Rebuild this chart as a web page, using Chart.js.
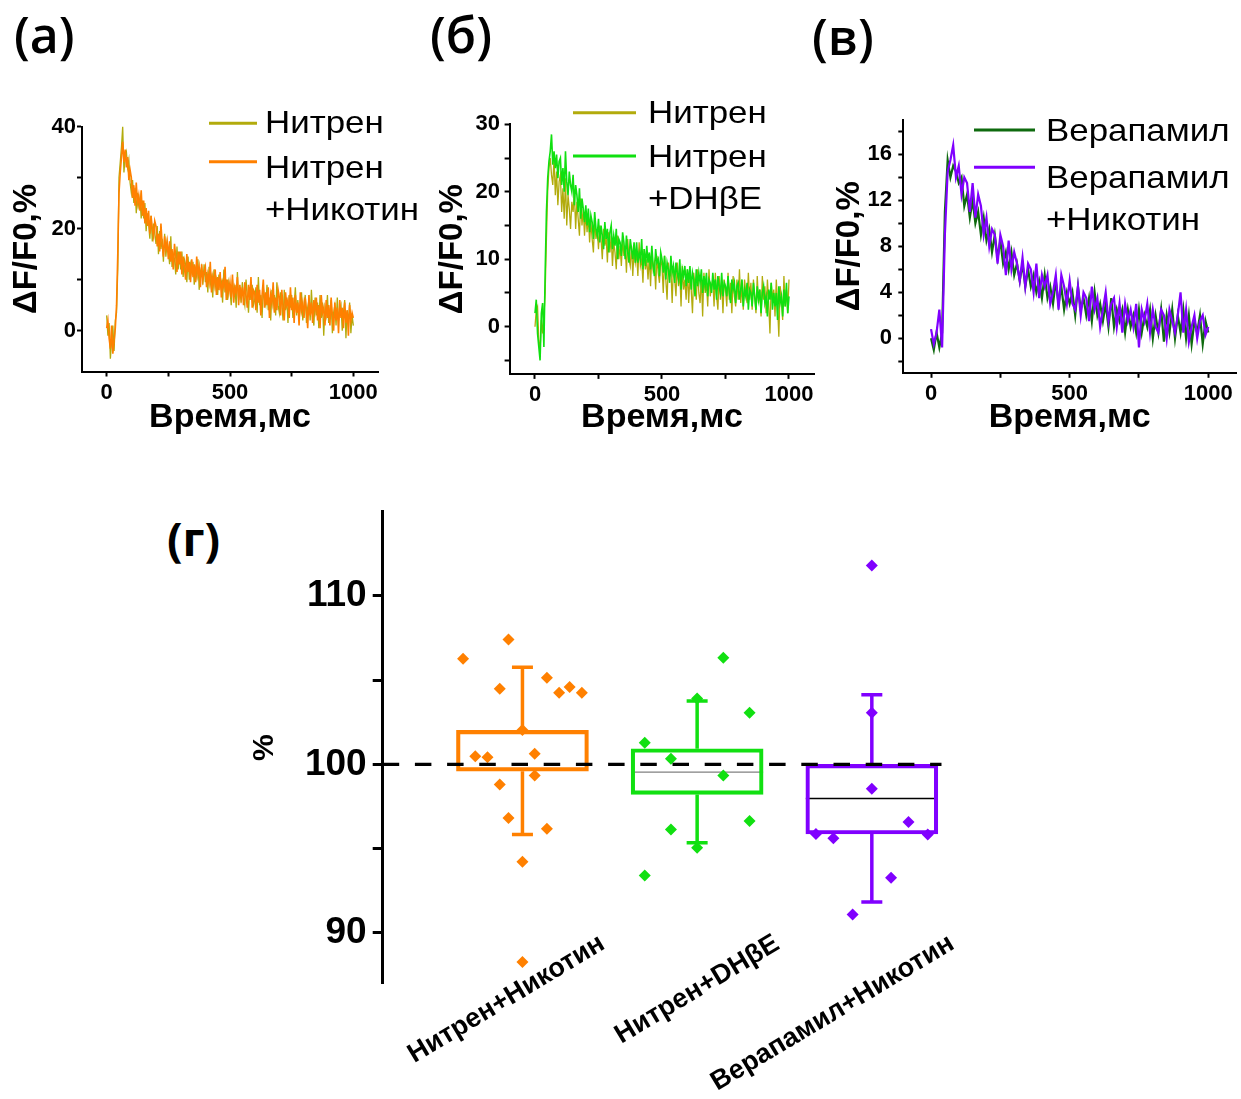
<!DOCTYPE html>
<html lang="ru">
<head>
<meta charset="utf-8">
<title>Кальциевые ответы</title>
<script src="https://cdn.jsdelivr.net/npm/chart.js@4.4.1/dist/chart.umd.min.js"></script>
<style>
  html, body { margin: 0; background: #fff; }
  body { position: relative; width: 1241px; height: 1099px; overflow: hidden; }
  canvas { position: absolute; }
  .tag { position: absolute; font-family: "Open Sans", sans-serif; font-weight: 600; font-size: 50px; line-height: 1; color: #000; white-space: nowrap; }
</style>
</head>
<body>
<div class="tag" style="left:14px;top:9px">(a)</div>
<div class="tag" style="left:430px;top:9px">(б)</div>
<div class="tag" style="left:812px;top:11px">(в)</div>
<div class="tag" style="left:167px;top:515px;font-weight:700;font-size:46px">(г)</div>
<canvas id="trace-a" width="420" height="350" style="left:0;top:90px"></canvas>
<canvas id="trace-b" width="410" height="360" style="left:420px;top:80px"></canvas>
<canvas id="trace-c" width="411" height="360" style="left:830px;top:80px"></canvas>
<canvas id="summary" width="840" height="629" style="left:150px;top:470px"></canvas>
<script>
const FONT = '"Liberation Sans", Arial, sans-serif';
Chart.defaults.font.family = FONT;
Chart.defaults.color = '#000';

// sampling grids of the fluorescence traces, ms
const fineTimes = Array.from({ length: 201 }, (_, i) => i * 5);
const coarseTimes = Array.from({ length: 101 }, (_, i) => i * 10);
const timeTicks = [0, 250, 500, 750, 1000];
const timeLabels = [0, 500, 1000];

// (a) Нитрен vs Нитрен+Никотин, ΔF/F0 %
const nitrenA = [
    3, -1, 1.5, -5.5, -2, 1, -4, 2, 3.5, 12,
    30, 33, 36, 40, 31, 34, 35, 32, 33.5, 29,
    27, 29.5, 25, 28, 23, 27, 24.5, 26, 22, 25.5,
    22, 25, 19.5, 23, 21, 18, 22.5, 17.5, 21, 19,
    17, 20.5, 15, 19.5, 16, 18, 13.5, 19, 14.5, 17.5,
    16, 13, 18.5, 12.5, 15, 14, 11, 16.5, 12, 15.5,
    12, 15.5, 10.5, 14, 13, 9.5, 14.5, 10, 13, 11.5,
    13.5, 9, 12, 10.5, 14, 8, 11.5, 12.5, 9, 13,
    9.5, 11.5, 7.5, 12.5, 9, 10.5, 6.5, 12, 8.5, 10,
    7, 11, 8.5, 9.5, 5.5, 12, 7.5, 10, 6, 9.5,
    8, 5, 10, 7, 9, 4.5, 11.5, 6, 8.5, 5.5,
    9.5, 6.5, 5, 10, 7, 3.5, 8.5, 6, 9, 5,
    6, 8.5, 3.5, 10.5, 5, 7, 2.5, 8.5, 6, 5,
    9, 4, 6.5, 2, 8, 5, 7, 3, 9.5, 5,
    3.5, 7.5, 5.5, 2, 8, 4, 6.5, 1.5, 7, 4.5,
    7, 2.5, 5, 8.5, 3, 6, 2, 4.5, 7.5, 2,
    5, 7, 1.5, 4.5, 6, 2, 8, 3.5, 1, 6.5,
    3, 5.5, 0.5, 7, 2.5, 5.5, -1, 4.5, 3, 7,
    1.5, 4, 6, -0.5, 3.5, 5, 1, 6.5, 2, 4,
    5, 0, 3.5, 6, -1.5, 4, 1.5, 5.5, -0.5, 3,
    1
];
const nitrenNicotineA = [
    0.5, 2, -1.5, -3.5, 1, -4.5, -2, 0.5, 5, 15,
    27, 31, 34, 37, 33, 35.5, 32, 34, 29.5, 31.5,
    30, 26, 28.5, 24.5, 29, 25, 26.5, 23.5, 27.5, 22.5,
    25.5, 21, 24, 20.5, 23.5, 19, 22.5, 20, 18.5, 21.5,
    20.5, 16.5, 19, 15.5, 21, 17, 14.5, 18.5, 16, 17.5,
    14, 17.5, 13.5, 16, 12, 17, 14.5, 11.5, 15.5, 13,
    15.5, 11, 14.5, 12.5, 10, 15, 11.5, 13.5, 9.5, 14,
    10.5, 13, 9.5, 14.5, 11, 12.5, 8.5, 13, 10, 11.5,
    12.5, 8.5, 11, 9.5, 13.5, 7.5, 10.5, 9, 12, 7,
    10.5, 8, 11.5, 6.5, 9.5, 8.5, 12.5, 6, 10, 7.5,
    9.5, 6.5, 11, 5.5, 8.5, 7.5, 10.5, 5, 9, 6.5,
    8.5, 5, 9.5, 7, 4.5, 9, 6, 10.5, 4.5, 8,
    7.5, 4, 9, 5.5, 8, 3, 7, 10, 4.5, 7.5,
    5, 8.5, 2.5, 7, 5.5, 9.5, 3.5, 6.5, 4, 8,
    6.5, 3, 8, 4.5, 2, 7.5, 5, 6, 2.5, 8.5,
    4, 6.5, 1.5, 7, 3.5, 5.5, 1, 7.5, 4, 5.5,
    2.5, 6.5, 4, 0.5, 7, 3, 5.5, 1.5, 6, 4,
    6.5, 2, 5, 0.5, 7, 3.5, 4.5, 1, 6, 2.5,
    5, 1, 6.5, 3, 0, 5.5, 2, 4.5, -0.5, 6,
    2.5, 4.5, 0.5, 5.5, 1.5, 4, -1, 5, 2, 3.5,
    2.5
];

// (б) Нитрен vs Нитрен+DHβE
const nitrenB = [
    0, 2.5, 3, -2, -3.5, 1, -1, 1.5, 5, 13,
    20, 23.5, 25, 22.5, 21, 25, 19.5, 23, 18, 21.5,
    22.5, 17, 20.5, 16, 22, 15, 19.5, 17.5, 14.5, 18.5,
    17, 20, 14.5, 18.5, 16, 13.5, 19, 15, 17.5, 13.5,
    17, 14, 16.5, 12.5, 15.5, 13, 11, 16, 13, 14.5,
    11.5, 15, 13, 10, 14.5, 12, 13.5, 9.5, 14, 11,
    13.5, 9, 12.5, 11, 8.5, 13.5, 10, 12, 9, 13,
    10.5, 12, 8, 13, 10, 9, 12, 7.5, 11.5, 9.5,
    11, 7.5, 12.5, 9, 10, 6.5, 11.5, 8.5, 10, 7,
    10.5, 6, 11, 8.5, 9.5, 5.5, 10.5, 8, 6.5, 10,
    9, 5, 10.5, 7, 4, 9.5, 7.5, 8.5, 3.5, 9,
    7, 4.5, 9.5, 6, 8, 3, 9, 5.5, 7, 4,
    8.5, 3.5, 7.5, 5.5, 2, 8, 6, 4, 8.5, 5,
    3.5, 7.5, 1.5, 8, 5, 6.5, 3, 8.5, 4.5, 6,
    7, 3, 8, 4.5, 2.5, 7.5, 4, 6.5, 2, 7,
    5.5, 3, 8, 4, 6.5, 2, 7.5, 4.5, 3, 7,
    4, 8.5, 3.5, 6, 2.5, 7, 5, 3.5, 8, 4,
    6.5, 2.5, 7, 4.5, 2, 7.5, 3.5, 5.5, 1.5, 7.5,
    4, 6, 2, 7, 3.5, -1, 6.5, 4, 5.5, 1.5,
    7, 3, -1.5, 6, 4.5, 1, 7.5, 3, 5.5, 2,
    7
];
const nitrenDhbeB = [
    2, 4, -1, -3, -5, 2, 3.5, -3, 8, 17,
    22, 24.5, 26, 28.5, 24, 26, 23.5, 25.5, 22, 24.5,
    25, 21, 23.5, 20, 26, 21.5, 19.5, 23, 21, 20,
    22.5, 18, 21, 19.5, 17, 20.5, 16, 19, 17.5, 15.5,
    18, 15, 17.5, 14, 16.5, 15.5, 13, 17, 14.5, 13.5,
    16, 12.5, 15, 13.5, 11.5, 15.5, 13, 14.5, 11, 14,
    15, 11.5, 13.5, 12, 14.5, 10, 13, 12.5, 10.5, 14,
    12.5, 10, 13.5, 11, 9.5, 13, 11.5, 10, 12.5, 9.5,
    12.5, 9.5, 11, 10, 13, 8.5, 11.5, 9, 12, 9.5,
    11, 8.5, 12, 9, 7.5, 11.5, 9.5, 10, 7.5, 11,
    10, 8, 10.5, 7, 9.5, 8.5, 6.5, 10.5, 8, 9,
    6.5, 9.5, 8, 7, 10, 5.5, 8.5, 7.5, 9, 6,
    8.5, 6.5, 9, 5.5, 8, 7, 4.5, 8.5, 6, 8,
    6.5, 8.5, 5, 7.5, 6, 8, 4.5, 7, 6.5, 5,
    8, 5.5, 7, 4, 7.5, 6, 5, 8, 4.5, 6.5,
    6, 4.5, 7.5, 5, 3.5, 7, 5.5, 6.5, 3.5, 6,
    6.5, 4, 5.5, 7, 3, 5.5, 4.5, 6.5, 2.5, 5.5,
    5, 3, 6.5, 4.5, 2.5, 6, 4, 5.5, 2, 5,
    6, 3.5, 4.5, 1.5, 5.5, 4, 6.5, 2.5, 5, 3,
    5, 1, 6, 3.5, 4.5, 1.5, 5.5, 3, 6.5, 2,
    4.5
];

// (в) Верапамил vs Верапамил+Никотин
const verapamilC = [
    0, -1, 0.5, -0.8, 0.5, 11, 15.5, 14, 15, 14.5,
    13.5, 14, 11.5, 12.5, 10.5, 12, 10, 11, 9, 10.5,
    8.5, 9.5, 7.5, 9, 7, 8.5, 6.5, 7.5, 6, 7.5,
    5.5, 6.5, 5, 6.5, 4.5, 6, 4.5, 5.5, 4, 5,
    3.5, 5.5, 3.5, 4.5, 3, 5, 3, 4.5, 2.5, 4,
    3, 4, 2, 4.5, 2.5, 3.5, 2, 3.5, 1.5, 4,
    2, 3, 1.5, 3, 1, 3.5, 1, 2.5, 1.5, 2.5,
    0.5, 2.5, 1, 2, 0.5, 2.5, 0.5, 2, 1, 2.5,
    0, 2, 0.5, 2.5, -0.3, 2, 0.5, 2.5, 0, 2,
    0.5, 2.5, 0, 2, -0.5, 1.5, 0.5, 2, -0.5, 1.5,
    0.5
];
const verapamilNicotineC = [
    0.8, -0.5, 0.5, 2.5, -0.8, 9, 14.5, 15.5, 16.8, 14,
    15, 12.5, 14, 13.5, 11, 13.5, 10.5, 12.5, 11.5, 9,
    10.5, 8, 9.5, 9, 6.5, 9, 8, 5.5, 8.5, 6,
    7.5, 6.5, 5, 7, 4.5, 6.5, 6, 4, 6.5, 3.5,
    5.5, 4.5, 5.5, 3, 4, 5.5, 2.5, 5.5, 4.5, 3,
    5, 3, 2.5, 4.5, 2, 4, 3.5, 1.5, 4.5, 2.5,
    3.5, 1, 2.5, 4, 1.5, 3, 3.5, 1, 3, 0.5,
    3, 1.5, 2.5, 1, 3, -0.8, 2.5, 1.5, 3, 0.5,
    2.5, 1, 0.5, 2.5, 2, 0, 2.5, 1.5, 0.5, 2,
    4, 0.5, 2.5, -0.3, 1, 2, 0, 1.5, 2, 0.3,
    1
];

// (г) amplitude relative to control, %
const groupNames = ['Нитрен+Никотин', 'Нитрен+DHβE', 'Верапамил+Никотин'];
const groupColors = ['#ff8000', '#11e011', '#8000ff'];
const meanColors = [null, '#808080', '#000000'];
const boxLow = [99.6, 98.22, 95.87];
const boxHigh = [102.02, 100.93, 100.0];
const whiskerLow = [95.85, 95.35, 91.83];
const whiskerHigh = [105.77, 103.76, 104.14];
const meanLine = [null, 99.54, 97.98];

const cellsNicotine = [106.27, 107.41, 104.49, 105.15, 104.26, 104.59, 104.26, 102.04, 100.49,
    100.43, 100.63, 99.35, 98.81, 96.82, 96.18, 94.22, 88.27];
const spreadNicotine = [-0.34, -0.08, -0.13, 0.14, 0.21, 0.27, 0.34, 0, -0.27,
    -0.2, 0.07, 0.07, -0.13, -0.08, 0.14, 0, 0];
const cellsDhbe = [106.33, 103.92, 103.07, 101.29, 100.34, 99.35, 96.64, 96.14, 95.05, 93.41];
const spreadDhbe = [0.15, 0, 0.3, -0.3, -0.15, 0.15, 0.3, -0.15, 0, -0.3];
const cellsVerapamil = [111.81, 103.07, 98.56, 96.58, 95.87, 95.62, 95.85, 93.28, 91.1];
const spreadVerapamil = [0, 0, 0, 0.21, -0.32, -0.22, 0.32, 0.11, -0.11];

const percentTicks = [90, 95, 100, 105, 110];
const percentLabels = [90, 100, 110];

// legend with line samples and multi-line labels
const traceLegend = {
    id: 'traceLegend',
    afterDraw(chart, args, opts) {
        const ctx = chart.ctx;
        ctx.save();
        ctx.font = '32px ' + FONT;
        ctx.fillStyle = '#000';
        ctx.textAlign = 'left';
        ctx.textBaseline = 'alphabetic';
        chart.data.datasets.forEach((ds, i) => {
            const row = opts.rows[i];
            ctx.strokeStyle = ds.borderColor;
            ctx.lineWidth = 3;
            ctx.beginPath();
            ctx.moveTo(opts.lineFrom, row.lineY);
            ctx.lineTo(opts.lineTo, row.lineY);
            ctx.stroke();
            ds.label.split('\n').forEach((text, k) => {
                ctx.save();
                ctx.translate(opts.textX, row.baselines[k]);
                ctx.scale(1.09, 1);
                ctx.fillText(text, 0, 0);
                ctx.restore();
            });
        });
        ctx.restore();
    }
};

function traceDataset(label, times, values, color, width, order) {
    return {
        label: label,
        order: order,
        data: values.map((v, i) => ({ x: times[i], y: v })),
        borderColor: color,
        borderWidth: width,
        pointRadius: 0,
        tension: 0,
        fill: false
    };
}

function buildTraceChart(id, spec) {
    const ctx = document.getElementById(id).getContext('2d');
    return new Chart(ctx, {
        type: 'line',
        data: { datasets: spec.datasets },
        options: {
            responsive: false,
            animation: false,
            events: [],
            layout: { padding: spec.padding },
            plugins: {
                legend: { display: false },
                tooltip: { enabled: false },
                traceLegend: spec.legend
            },
            scales: {
                x: {
                    type: 'linear',
                    min: -100,
                    max: 1100,
                    afterBuildTicks: s => { s.ticks = timeTicks.map(v => ({ value: v })); },
                    afterFit: s => { s.height = spec.xHeight; },
                    ticks: {
                        autoSkip: false, maxRotation: 0, padding: 3,
                        font: { size: 22, weight: 'bold' },
                        callback: v => timeLabels.includes(v) ? String(v) : ''
                    },
                    grid: { drawOnChartArea: false, tickLength: 5, tickWidth: 2, tickColor: '#000' },
                    border: { color: '#000', width: 2 },
                    title: {
                        display: true, text: 'Время,мс',
                        font: { size: 34, weight: 'bold' },
                        padding: { top: 0, bottom: 2 }
                    }
                },
                y: {
                    min: spec.yMin,
                    max: spec.yMax,
                    afterBuildTicks: s => { s.ticks = spec.yTicks.map(v => ({ value: v })); },
                    afterFit: s => { s.width = spec.yWidth; },
                    ticks: {
                        autoSkip: false, padding: spec.yTickPad,
                        font: { size: 22, weight: 'bold' },
                        callback: v => spec.yLabels.includes(v) ? String(v) : ''
                    },
                    grid: { drawOnChartArea: false, tickLength: 5, tickWidth: 2, tickColor: '#000' },
                    border: { color: '#000', width: 2 },
                    title: {
                        display: true, text: 'ΔF/F0,%',
                        font: { size: 33, weight: 'bold' },
                        padding: { top: spec.yTitlePad, bottom: 0 }
                    }
                }
            }
        },
        plugins: [traceLegend]
    });
}

// whiskers and mean lines of the summary boxes
const boxWhiskers = {
    id: 'boxWhiskers',
    beforeDatasetsDraw(chart) {
        const { ctx, scales: { x, y } } = chart;
        const bars = chart.getDatasetMeta(chart.data.datasets.length - 1).data;
        ctx.save();
        groupNames.forEach((_, i) => {
            const cx = x.getPixelForValue(i + 1);
            ctx.strokeStyle = groupColors[i];
            ctx.lineWidth = 3.5;
            ctx.beginPath();
            ctx.moveTo(cx, y.getPixelForValue(boxHigh[i]));
            ctx.lineTo(cx, y.getPixelForValue(whiskerHigh[i]));
            ctx.moveTo(cx, y.getPixelForValue(boxLow[i]));
            ctx.lineTo(cx, y.getPixelForValue(whiskerLow[i]));
            [whiskerHigh[i], whiskerLow[i]].forEach(v => {
                const py = y.getPixelForValue(v);
                ctx.moveTo(cx - 10.5, py);
                ctx.lineTo(cx + 10.5, py);
            });
            ctx.stroke();
            if (meanLine[i] !== null) {
                const bar = bars[i];
                const py = y.getPixelForValue(meanLine[i]);
                ctx.strokeStyle = meanColors[i];
                ctx.lineWidth = 1.3;
                ctx.beginPath();
                ctx.moveTo(bar.x - bar.width / 2, py);
                ctx.lineTo(bar.x + bar.width / 2, py);
                ctx.stroke();
            }
        });
        ctx.restore();
    }
};

// slanted group names under the boxes
const groupLabels = {
    id: 'groupLabels',
    afterDraw(chart) {
        const { ctx, chartArea, scales: { x } } = chart;
        ctx.save();
        ctx.font = 'bold 27px ' + FONT;
        ctx.fillStyle = '#000';
        ctx.textAlign = 'right';
        ctx.textBaseline = 'middle';
        groupNames.forEach((name, i) => {
            ctx.save();
            ctx.translate(x.getPixelForValue(i + 1) + 80, chartArea.bottom - 42);
            ctx.rotate(-31 * Math.PI / 180);
            ctx.fillText(name, 0, 0);
            ctx.restore();
        });
        ctx.restore();
    }
};

function cellDataset(values, spread, i) {
    return {
        type: 'scatter',
        data: values.map((v, k) => ({ x: i + 1 + spread[k], y: v })),
        pointStyle: 'rectRot',
        pointRadius: 6,
        pointBackgroundColor: groupColors[i],
        backgroundColor: groupColors[i],
        pointBorderWidth: 0,
        order: 1
    };
}

function buildSummaryChart() {
    const ctx = document.getElementById('summary').getContext('2d');
    return new Chart(ctx, {
        type: 'scatter',
        data: {
            datasets: [
                {
                    type: 'line',
                    data: [{ x: 0.2, y: 100 }, { x: 3.4, y: 100 }],
                    borderColor: '#000',
                    borderWidth: 3.3,
                    borderDash: [16.5, 15.7],
                    pointRadius: 0,
                    order: 0
                },
                cellDataset(cellsNicotine, spreadNicotine, 0),
                cellDataset(cellsDhbe, spreadDhbe, 1),
                cellDataset(cellsVerapamil, spreadVerapamil, 2),
                {
                    type: 'bar',
                    data: groupNames.map((_, i) => ({ x: i + 1, y: [boxLow[i], boxHigh[i]] })),
                    borderColor: groupColors,
                    backgroundColor: 'rgba(0,0,0,0)',
                    borderWidth: 3.5,
                    borderSkipped: false,
                    barThickness: 132,
                    order: 2
                }
            ]
        },
        options: {
            responsive: false,
            animation: false,
            events: [],
            layout: { padding: { left: 0, top: 41.7, right: 48.3, bottom: 115.5 } },
            plugins: { legend: { display: false }, tooltip: { enabled: false } },
            scales: {
                x: { type: 'linear', min: 0.2, max: 3.4, offset: false, display: false, grid: { offset: false } },
                y: {
                    min: 87,
                    max: 115,
                    afterBuildTicks: s => { s.ticks = percentTicks.map(v => ({ value: v })); },
                    afterFit: s => { s.width = 232.7; },
                    ticks: {
                        autoSkip: false, padding: 6,
                        font: { size: 37, weight: 'bold' },
                        callback: v => percentLabels.includes(v) ? String(v) : ''
                    },
                    grid: { drawOnChartArea: false, tickLength: 10, tickWidth: 3, tickColor: '#000' },
                    border: { color: '#000', width: 3 },
                    title: {
                        display: true, text: '%',
                        font: { size: 30, weight: 'bold' },
                        padding: { top: 97, bottom: 0 }
                    }
                }
            }
        },
        plugins: [boxWhiskers, groupLabels]
    });
}

function initPage() {
    buildTraceChart('trace-a', {
        datasets: [
            traceDataset('Нитрен', fineTimes, nitrenA, '#b2ab0c', 1.3, 2),
            traceDataset('Нитрен\n+Никотин', fineTimes, nitrenNicotineA, '#ff8000', 1.6, 1)
        ],
        padding: { left: 0, top: 36.5, right: 42, bottom: 0 },
        xHeight: 68.5, yWidth: 82, yTickPad: 1, yTitlePad: 7,
        yMin: -8, yMax: 40, yTicks: [0, 10, 20, 30, 40], yLabels: [0, 20, 40],
        legend: { lineFrom: 209, lineTo: 257, textX: 265,
            rows: [{ lineY: 33.3, baselines: [43] }, { lineY: 71.7, baselines: [88, 130] }] }
    });
    buildTraceChart('trace-b', {
        datasets: [
            traceDataset('Нитрен', fineTimes, nitrenB, '#b2ab0c', 1.3, 2),
            traceDataset('Нитрен\n+DHβE', fineTimes, nitrenDhbeB, '#10e010', 1.6, 1)
        ],
        padding: { left: 0, top: 44.3, right: 15.6, bottom: 0 },
        xHeight: 66.1, yWidth: 89.6, yTickPad: 4.6, yTitlePad: 13,
        yMin: -7, yMax: 30, yTicks: [-5, 0, 5, 10, 15, 20, 25, 30], yLabels: [0, 10, 20, 30],
        legend: { lineFrom: 153, lineTo: 216, textX: 228,
            rows: [{ lineY: 32.7, baselines: [43] }, { lineY: 76, baselines: [87, 128.5] }] }
    });
    buildTraceChart('trace-c', {
        datasets: [
            traceDataset('Верапамил', coarseTimes, verapamilC, '#0e6a0e', 2.2, 2),
            traceDataset('Верапамил\n+Никотин', coarseTimes, verapamilNicotineC, '#8000ff', 2.2, 1)
        ],
        padding: { left: 0, top: 39.8, right: 5, bottom: 0 },
        xHeight: 67.2, yWidth: 73.3, yTickPad: 6.3, yTitlePad: 0,
        yMin: -3, yMax: 19, yTicks: [-2, 0, 2, 4, 6, 8, 10, 12, 14, 16, 18], yLabels: [0, 4, 8, 12, 16],
        legend: { lineFrom: 144, lineTo: 205, textX: 216,
            rows: [{ lineY: 50, baselines: [61] }, { lineY: 87.3, baselines: [108, 149.7] }] }
    });
    buildSummaryChart();
}

document.addEventListener('DOMContentLoaded', initPage);
</script>
</body>
</html>
